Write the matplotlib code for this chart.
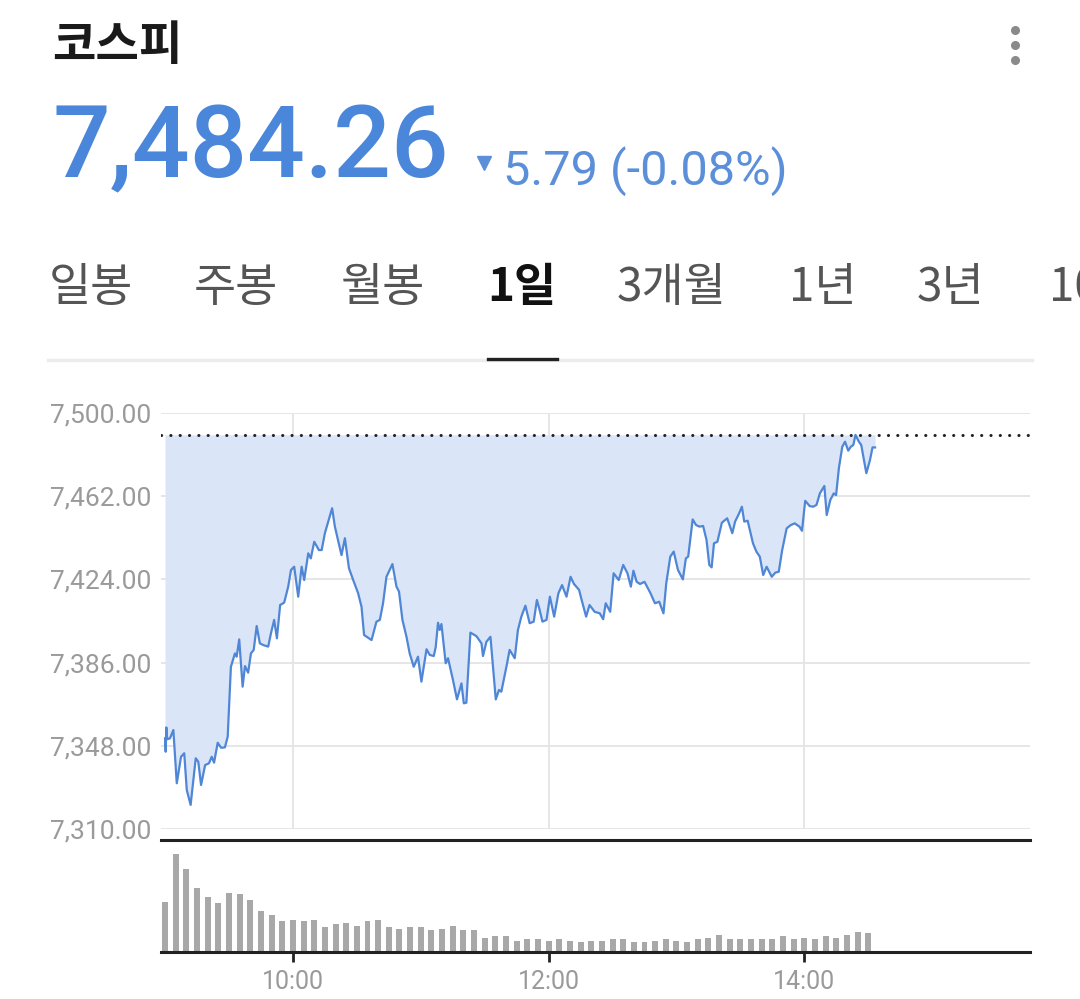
import numpy as np
import matplotlib.pyplot as plt
from matplotlib.lines import Line2D

# 코스피 1일 차트 (분 단위: 09:00 기준 경과 분)
prev_close = 7490.05
last_price = 7484.26
change = -5.79
change_pct = -0.08

time_min = [
    0.0, 0.3, 0.6, 1.0, 2.3, 3.9, 5.5, 7.5, 9.0, 10.2,
    12.0, 14.4, 15.6, 16.9, 18.8, 20.6, 21.9, 23.0, 24.7, 26.3,
    28.1, 29.4, 30.9, 32.8, 33.6, 34.8, 36.4, 37.5, 39.0, 40.3,
    41.6, 43.0, 44.5, 46.1, 48.4, 49.7, 51.2, 52.5, 54.0, 55.9,
    57.8, 59.1, 60.6, 62.5, 64.1, 65.3, 67.2, 68.4, 70.0, 72.2,
    73.5, 75.0, 78.4, 79.7, 82.8, 84.4, 86.3, 88.3, 90.6, 92.2,
    93.4, 96.9, 99.2, 100.8, 102.3, 103.9, 106.7, 108.6, 109.8, 111.4,
    113.3, 114.8, 116.7, 118.7, 120.3, 122.7, 124.2, 126.1, 127.0, 128.1,
    128.9, 129.7, 131.7, 132.8, 135.1, 137.0, 139.1, 140.2, 141.4, 143.3,
    146.1, 148.5, 149.2, 150.8, 152.7, 155.2, 156.7, 157.8, 160.2, 161.7,
    164.1, 165.6, 167.2, 169.1, 171.1, 173.0, 174.5, 175.8, 177.1, 179.0,
    180.6, 182.6, 184.6, 186.3, 188.4, 190.3, 191.9, 194.3, 195.5, 197.6,
    199.2, 201.6, 204.0, 205.6, 206.8, 208.9, 210.5, 212.9, 215.0, 217.0,
    218.6, 219.8, 221.3, 222.9, 225.0, 227.8, 229.9, 231.9, 233.9, 235.2,
    237.1, 238.7, 240.7, 243.0, 244.4, 245.5, 247.6, 249.2, 250.8, 252.5,
    254.1, 255.4, 256.5, 257.6, 259.2, 261.3, 263.8, 266.2, 267.5, 269.4,
    270.7, 271.8, 273.4, 275.9, 277.5, 279.1, 280.7, 282.3, 284.7, 286.4,
    288.0, 289.6, 291.7, 293.6, 295.5, 297.7, 298.9, 300.4, 302.5, 304.1,
    305.7, 307.3, 309.4, 310.5, 312.2, 313.8, 314.9, 316.2, 317.8, 319.1,
    320.6, 321.8, 323.0, 324.0, 325.6, 326.7, 329.1, 330.8, 332.0, 333.2,
]

prices = [
    7351.4, 7345.3, 7356.4, 7351.0, 7351.4, 7355.2, 7330.9, 7343.0, 7344.6, 7327.8,
    7321.0, 7342.3, 7340.7, 7330.1, 7339.2, 7340.0, 7343.0, 7340.3, 7349.4, 7347.1,
    7347.3, 7352.2, 7384.1, 7390.2, 7388.7, 7396.6, 7375.0, 7384.4, 7381.4, 7390.2,
    7391.8, 7402.7, 7394.8, 7394.0, 7393.3, 7399.4, 7405.5, 7397.1, 7412.3, 7413.4,
    7420.7, 7428.3, 7429.8, 7416.1, 7429.8, 7423.7, 7435.9, 7433.6, 7441.2, 7437.4,
    7437.4, 7445.1, 7456.5, 7448.1, 7435.1, 7442.8, 7429.1, 7423.7, 7417.7, 7411.5,
    7398.6, 7396.3, 7404.7, 7405.5, 7413.1, 7425.2, 7431.0, 7420.7, 7418.4, 7405.5,
    7397.8, 7390.2, 7384.1, 7388.7, 7377.3, 7392.1, 7389.5, 7389.0, 7393.0, 7404.2,
    7400.9, 7403.6, 7385.7, 7388.0, 7378.1, 7369.2, 7376.5, 7367.4, 7367.7, 7399.7,
    7398.1, 7394.8, 7389.0, 7395.5, 7397.8, 7369.2, 7373.5, 7372.7, 7384.1, 7391.8,
    7388.0, 7400.9, 7407.0, 7412.0, 7404.0, 7404.7, 7414.6, 7410.0, 7404.7, 7405.5,
    7416.1, 7407.0, 7417.7, 7421.4, 7416.1, 7425.2, 7421.9, 7419.2, 7414.6, 7407.0,
    7412.3, 7409.2, 7408.5, 7405.8, 7413.1, 7409.2, 7426.8, 7423.7, 7430.6, 7426.8,
    7420.7, 7428.0, 7422.9, 7421.9, 7422.9, 7417.7, 7413.1, 7413.8, 7408.5, 7422.2,
    7434.4, 7436.7, 7428.3, 7424.0, 7433.6, 7434.4, 7451.4, 7448.8, 7448.1, 7448.4,
    7442.0, 7430.6, 7429.5, 7440.5, 7441.2, 7449.9, 7451.9, 7445.1, 7450.4, 7454.2,
    7457.2, 7450.4, 7450.8, 7440.5, 7436.7, 7434.4, 7426.0, 7429.8, 7425.2, 7427.1,
    7427.5, 7437.4, 7447.3, 7448.8, 7449.6, 7448.1, 7446.2, 7459.9, 7457.5, 7457.2,
    7458.0, 7463.3, 7466.7, 7453.4, 7460.3, 7463.3, 7462.5, 7474.7, 7484.6, 7486.9,
    7482.8, 7484.6, 7485.4, 7490.0, 7486.9, 7485.4, 7472.5, 7478.5, 7484.3, 7484.26,
]

# 5분 거래량 (상대값)
volume = [
    50.0, 97.7, 83.0, 63.3, 54.3, 48.3, 58.7, 57.3, 51.3, 40.7,
    36.3, 30.3, 31.7, 30.3, 31.7, 24.3, 27.3, 28.7, 26.0, 30.3,
    31.7, 24.3, 22.7, 24.3, 24.3, 21.3, 22.7, 26.0, 21.3, 21.3,
    13.7, 15.3, 15.3, 10.7, 12.3, 12.3, 10.7, 12.3, 10.7, 9.3,
    10.7, 10.7, 12.3, 12.3, 9.3, 9.3, 10.7, 12.3, 10.7, 9.3,
    12.3, 13.7, 16.7, 12.3, 12.3, 12.3, 12.3, 12.3, 15.3, 12.3,
    13.7, 12.3, 15.3, 13.7, 16.7, 19.7, 18.3,
]

y_ticks = [7310, 7348, 7386, 7424, 7462, 7500]
x_ticks = [60, 180, 300]
x_labels = ["10:00", "12:00", "14:00"]
tabs = ["일봉", "주봉", "월봉", "1일", "3개월", "1년", "3년", "10년"]
tab_x = [49, 194, 341, 487, 617, 789, 917, 1049]

t = np.array(time_min)
p = np.array(prices)
vol_t = np.arange(len(volume)) * 5

W, H = 1080, 999
def fx(px):
    return px / W
def fy(py):
    return 1 - py / H

num_font = ["Roboto", "Noto Sans CJK KR", "DejaVu Sans"]
kr_font = ["Noto Sans CJK KR", "DejaVu Sans"]
blue = "#4a86da"
blue2 = "#5b8fd9"

fig = plt.figure(figsize=(10.8, 9.99), dpi=100)
fig.patch.set_facecolor("white")

# --- header ---
fig.text(fx(52), fy(46), "코스피", family=kr_font, weight="bold", fontsize=34,
         color="#1a1a1a", va="center", ha="left")
for yy in (30, 45, 60):
    fig.add_artist(Line2D([fx(1015)], [fy(yy)], marker="o", markersize=5.5,
                          color="#8a8a8a", transform=fig.transFigure))

fig.text(fx(53), fy(177), f"{last_price:,.2f}", family=num_font, weight="medium",
         fontsize=73, color=blue, va="baseline", ha="left")
fig.add_artist(Line2D([fx(484)], [fy(163)], marker="v", markersize=10,
                      color=blue2, transform=fig.transFigure))
fig.text(fx(503), fy(185), f"{abs(change):.2f} ({change_pct:.2f}%)", family=num_font,
         fontsize=35, color=blue2, va="baseline", ha="left")

for lab, x0 in zip(tabs, tab_x):
    sel = lab == "1일"
    fig.text(fx(x0), fy(288), lab, family=kr_font, fontsize=33,
             weight="bold" if sel else "normal",
             color="#111111" if sel else "#555555", va="center", ha="left")

fig.add_artist(Line2D([fx(48), fx(1032)], [fy(360), fy(360)], color="#ececec",
                      lw=2.5, transform=fig.transFigure))
fig.add_artist(Line2D([fx(488), fx(557)], [fy(359), fy(359)], color="#222222",
                      lw=2.4, transform=fig.transFigure))

# --- price chart ---
xmin, xmax = -1.9, 405.9
ax = fig.add_axes([fx(161), fy(829), fx(1030) - fx(161), fy(413) - fy(829)])
ax.set_xlim(xmin, xmax)
ax.set_ylim(7310, 7500)
ax.fill_between(t, p, prev_close, where=p <= prev_close, interpolate=True,
                color="#dae6f8", lw=0, zorder=1)
ax.plot(t, p, color="#4f86d6", lw=1.6, zorder=3)
ax.axhline(prev_close, color="#222222", lw=2.2, ls=(0, (0.05, 3.0)),
           dash_capstyle="round", zorder=4)
for yv in y_ticks:
    ax.axhline(yv, color="#e4e4e4", lw=1.3, zorder=0)
for xv in x_ticks:
    ax.axvline(xv, color="#e4e4e4", lw=1.3, zorder=0)
ax.set_yticks(y_ticks)
ax.set_yticklabels([f"{v:,.2f}" for v in y_ticks], family=num_font,
                   fontsize=19, color="#9a9a9a")
ax.tick_params(axis="y", length=0, pad=7)
ax.set_xticks([])
for s in ax.spines.values():
    s.set_visible(False)

# --- volume ---
axv = fig.add_axes([fx(161), fy(951.7), fx(1030) - fx(161), fy(840) - fy(951.7)])
axv.set_xlim(xmin, xmax)
axv.set_ylim(0, 111.7)
axv.bar(vol_t, volume, width=2.8, color="#a8a8a8", zorder=2)
axv.set_yticks([])
axv.set_xticks(x_ticks)
axv.set_xticklabels(x_labels, family=num_font, fontsize=18, color="#9a9a9a")
axv.tick_params(axis="x", direction="out", length=7, width=2, color="#222222", pad=6)
for side in ("left", "right"):
    axv.spines[side].set_visible(False)
for side in ("top", "bottom"):
    axv.spines[side].set_color("#222222")
    axv.spines[side].set_linewidth(2.2)

fig.savefig("out.png", dpi=100, facecolor="white")
